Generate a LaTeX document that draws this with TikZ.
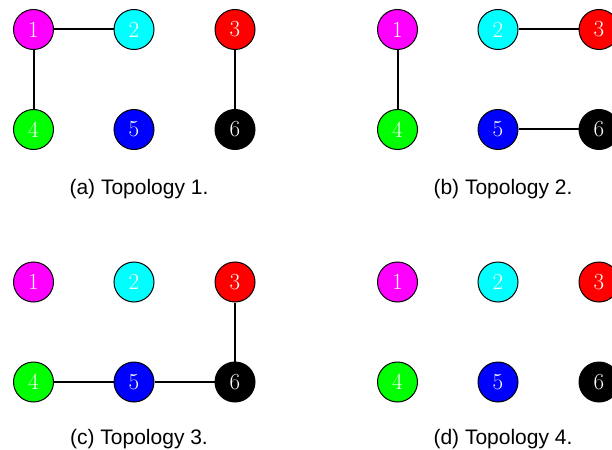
\documentclass[tikz,border=0pt]{standalone}
\usepackage{fontspec}
\newfontfamily\capfont{Liberation Sans}
\definecolor{vmagenta}{RGB}{255,0,255}
\definecolor{vcyan}{RGB}{0,255,255}
\definecolor{vred}{RGB}{255,0,0}
\definecolor{vgreen}{RGB}{0,255,0}
\definecolor{vblue}{RGB}{0,0,255}
\begin{document}
\begin{tikzpicture}[x=1pt,y=-1pt,
  vertex/.style={circle,draw=black,line width=1pt,minimum size=40pt,inner sep=0pt,
    text=white,font=\fontsize{23}{23}\selectfont},
  link/.style={line width=2pt,black},
  caption/.style={anchor=base,inner sep=0pt,font=\capfont\fontsize{21}{24}\selectfont}]
\clip (0,0) rectangle (612,449);
\useasboundingbox (0,0) rectangle (612,449);
% one six-vertex panel: #1 name prefix, #2 x shift, #3 y shift
\newcommand{\sixvertices}[3]{%
  \node[vertex,fill=vmagenta] (#1v1) at (33.5+#2,29.5+#3) {1};
  \node[vertex,fill=vcyan]    (#1v2) at (134+#2,29.5+#3) {2};
  \node[vertex,fill=vred]     (#1v3) at (235+#2,29.5+#3) {3};
  \node[vertex,fill=vgreen]   (#1v4) at (33.5+#2,129.5+#3) {4};
  \node[vertex,fill=vblue]    (#1v5) at (134+#2,129.5+#3) {5};
  \node[vertex,fill=black]    (#1v6) at (235+#2,129.5+#3) {6};
}
% (a)
\sixvertices{a}{0}{0}
\draw[link] (av1) -- (av2);
\draw[link] (av1) -- (av4);
\draw[link] (av3) -- (av6);
\node[caption] (capa) at (139,194) {(a) Topology 1.};
% (b)
\sixvertices{b}{364}{0}
\draw[link] (bv1) -- (bv4);
\draw[link] (bv2) -- (bv3);
\draw[link] (bv5) -- (bv6);
\node[caption] (capb) at (503,194) {(b) Topology 2.};
% (c)
\sixvertices{c}{0}{252.5}
\draw[link] (cv3) -- (cv6);
\draw[link] (cv4) -- (cv5);
\draw[link] (cv5) -- (cv6);
\node[caption] (capc) at (139,444) {(c) Topology 3.};
% (d)
\sixvertices{d}{364}{252.5}
\node[caption] (capd) at (503,444) {(d) Topology 4.};
\end{tikzpicture}
\end{document}
